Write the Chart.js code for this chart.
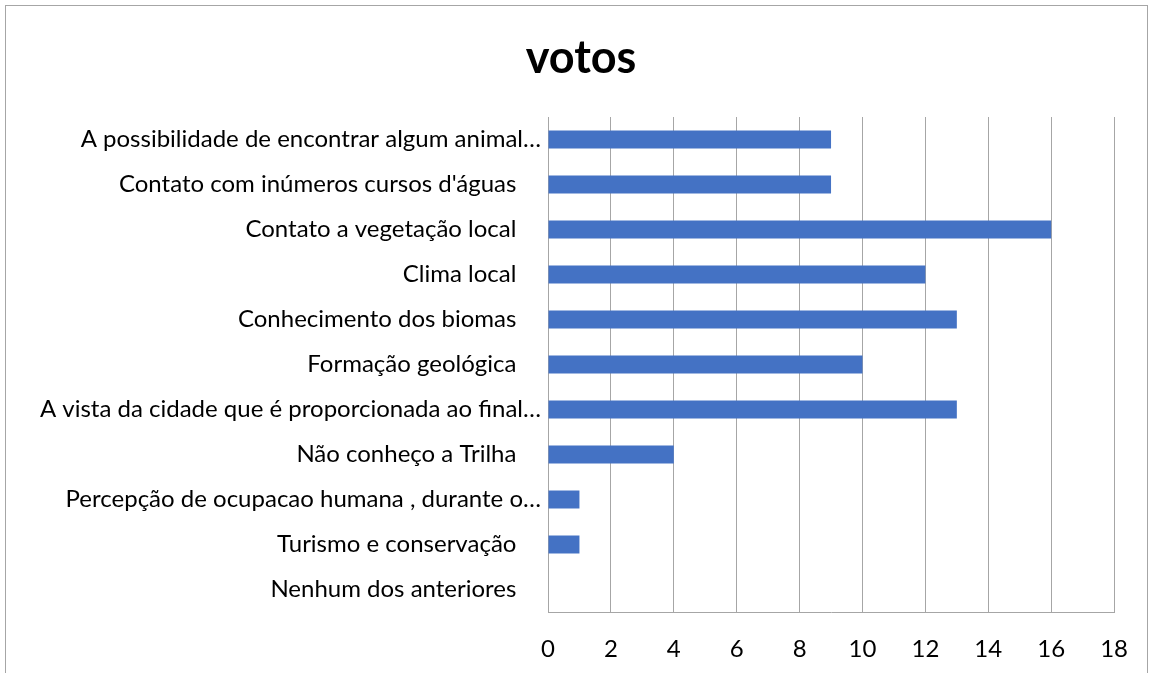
<!DOCTYPE html>
<html lang="pt">
<head>
  <meta charset="UTF-8">
  <title>votos</title>
  <script src="https://cdn.jsdelivr.net/npm/chart.js"></script>
  <style>
    body { margin: 0; background: #fff; }
    #wrap { width: 1151px; height: 673px; }
  </style>
</head>
<body>
  <div id="wrap"><canvas id="votosChart" width="1151" height="673"></canvas></div>
  <script>
    // categories (top to bottom, as in the picture)
    const categories = [
      'A possibilidade de encontrar algum animal…',
      'Contato com inúmeros cursos d\'águas    ',
      'Contato a vegetação local    ',
      'Clima local    ',
      'Conhecimento dos biomas    ',
      'Formação geológica    ',
      'A vista da cidade que é proporcionada ao final…',
      'Não conheço a Trilha    ',
      'Percepção de ocupacao humana , durante o…',
      'Turismo e conservação    ',
      'Nenhum dos anteriores    '
    ];
    const votos = [9, 9, 16, 12, 13, 10, 13, 4, 1, 1, 0];
    const xTicks = [0, 2, 4, 6, 8, 10, 12, 14, 16, 18];

    const labelFont = { family: 'Lato', size: 24 };

    // thin grey frame around the chart, like the spreadsheet chart box
    const framePlugin = {
      id: 'frame',
      beforeDraw(chart) {
        const ctx = chart.ctx;
        ctx.save();
        ctx.strokeStyle = '#a6a6a6';
        ctx.lineWidth = 1;
        ctx.strokeRect(5.5, 5.5, 1142, 700);
        ctx.restore();
      }
    };

    new Chart(document.getElementById('votosChart'), {
      type: 'bar',
      data: {
        labels: categories,
        datasets: [{
          label: 'votos',
          data: votos,
          backgroundColor: '#4472C4',
          barPercentage: 0.4,
          categoryPercentage: 1.0
        }]
      },
      options: {
        indexAxis: 'y',
        responsive: false,
        animation: false,
        layout: { padding: { top: 6, left: 11, right: 0, bottom: 0 } },
        plugins: {
          legend: { display: false },
          tooltip: { enabled: false },
          title: {
            display: true,
            text: 'votos',
            color: '#000',
            font: { family: 'Lato', size: 45, weight: 'bold' },
            padding: { top: 25, bottom: 32 }
          }
        },
        scales: {
          x: {
            min: 0,
            max: 18,
            afterBuildTicks(axis) {
              axis.ticks = xTicks.map(v => ({ value: v }));
            },
            afterFit(axis) { axis.height = 61; },
            grid: { color: '#a6a6a6', drawTicks: false },
            border: { color: '#a6a6a6' },
            ticks: { color: '#000', font: labelFont, padding: 23 }
          },
          y: {
            afterFit(axis) { axis.width = 537; },
            grid: { display: false, drawTicks: false },
            border: { display: true, color: '#a6a6a6' },
            ticks: { color: '#000', font: labelFont, padding: 7, autoSkip: false }
          },
          // empty right-hand margin so the plot ends where the reference does
          yRight: {
            type: 'category',
            position: 'right',
            afterFit(axis) { axis.width = 36; },
            grid: { display: false, drawTicks: false },
            border: { display: false },
            ticks: { display: false }
          }
        }
      },
      plugins: [framePlugin]
    });
  </script>
</body>
</html>
